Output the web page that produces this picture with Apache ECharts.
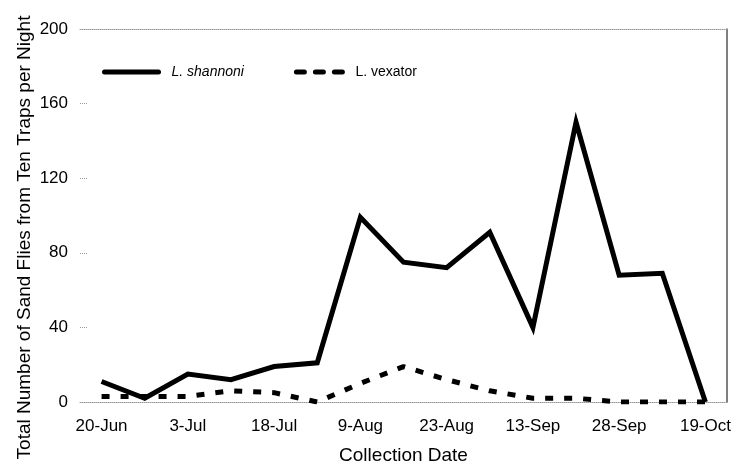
<!DOCTYPE html>
<html>
<head>
<meta charset="utf-8">
<script src="https://cdn.jsdelivr.net/npm/echarts@6/dist/echarts.min.js"></script>
<style>
  html, body { margin: 0; padding: 0; background: #fff; }
  #chart { width: 732px; height: 469px; }
</style>
</head>
<body>
<div id="chart"></div>
<script>
// Collection dates (labels shown on every other date)
const dates = ['20-Jun', '27-Jun', '3-Jul', '11-Jul', '18-Jul', '26-Jul', '9-Aug', '16-Aug',
               '23-Aug', '6-Sep', '13-Sep', '20-Sep', '28-Sep', '5-Oct', '19-Oct'];
// Sand flies per night, ten traps
const shannoni = [11, 2, 15, 12, 19, 21, 99, 75, 72, 91, 40, 150, 68, 69, 0];
const vexator  = [3, 3, 3, 6, 5, 0, 10, 19, 12, 6, 2, 2, 0, 0, 0];
const yTicks = [0, 40, 80, 120, 160, 200];

const font = 'Liberation Sans, Arial, Helvetica, sans-serif';
const chart = echarts.init(document.getElementById('chart'));

chart.setOption({
  animation: false,
  backgroundColor: '#fff',
  textStyle: { fontFamily: font },
  grid: { left: 80, right: 5, top: 29, bottom: 67, outerBoundsMode: 'none', containLabel: false },
  legend: {
    left: 102, top: 65, padding: 0,
    itemWidth: 54, itemHeight: 14, itemGap: 50,
    itemStyle: { opacity: 0 },
    lineStyle: { width: 5, cap: 'round' },
    textStyle: { fontFamily: font, fontSize: 14, color: '#000', padding: [0, 0, 0, 8] },
    data: [
      { name: 'L. shannoni', textStyle: { fontStyle: 'italic' } },
      { name: 'L. vexator', textStyle: { padding: [0, 0, 0, 0] } }
    ]
  },
  xAxis: [
    {
      type: 'category',
      data: dates,
      boundaryGap: true,
      name: 'Collection Date',
      nameLocation: 'middle',
      nameGap: 44,
      nameMoveOverlap: false,
      nameTextStyle: { fontFamily: font, fontSize: 19, color: '#000' },
      axisLine: { show: true, onZero: false, lineStyle: { color: '#999', type: 'dotted', width: 1 } },
      axisTick: { show: false },
      axisLabel: { interval: 1, fontSize: 17, color: '#000', margin: 16, fontFamily: font },
      splitLine: { show: false }
    },
    {
      type: 'category',
      data: dates,
      position: 'top',
      boundaryGap: true,
      axisLine: { show: true, onZero: false, lineStyle: { color: '#999', type: 'dotted', width: 1 } },
      axisTick: { show: false },
      axisLabel: { show: false },
      splitLine: { show: false }
    }
  ],
  yAxis: [
    {
      type: 'value',
      min: yTicks[0], max: yTicks[yTicks.length - 1], interval: 40,
      name: 'Total Number of Sand Flies from Ten Traps per Night',
      nameLocation: 'middle',
      nameGap: 46,
      nameMoveOverlap: false,
      nameTextStyle: { fontFamily: font, fontSize: 19, color: '#000', padding: [0, 44, 0, 0] },
      axisLine: { show: false },
      axisTick: { show: true, inside: true, length: 8, lineStyle: { color: '#999', type: 'dotted' } },
      axisLabel: { fontSize: 17, color: '#000', margin: 12, fontFamily: font },
      splitLine: { show: false }
    },
    {
      type: 'value',
      position: 'right',
      min: yTicks[0], max: yTicks[yTicks.length - 1], interval: 40,
      axisLine: { show: true, onZero: false, lineStyle: { color: '#555', width: 1.5 } },
      axisTick: { show: false },
      axisLabel: { show: false },
      splitLine: { show: false }
    }
  ],
  series: [
    {
      name: 'L. shannoni',
      type: 'line',
      data: shannoni,
      symbol: 'none',
      lineStyle: { color: '#000', width: 5, join: 'miter' },
      itemStyle: { color: '#000' },
      z: 3
    },
    {
      name: 'L. vexator',
      type: 'line',
      data: vexator,
      symbol: 'none',
      lineStyle: { color: '#000', width: 5, type: [8, 11] },
      itemStyle: { color: '#000' },
      z: 2
    }
  ]
});
</script>
</body>
</html>
